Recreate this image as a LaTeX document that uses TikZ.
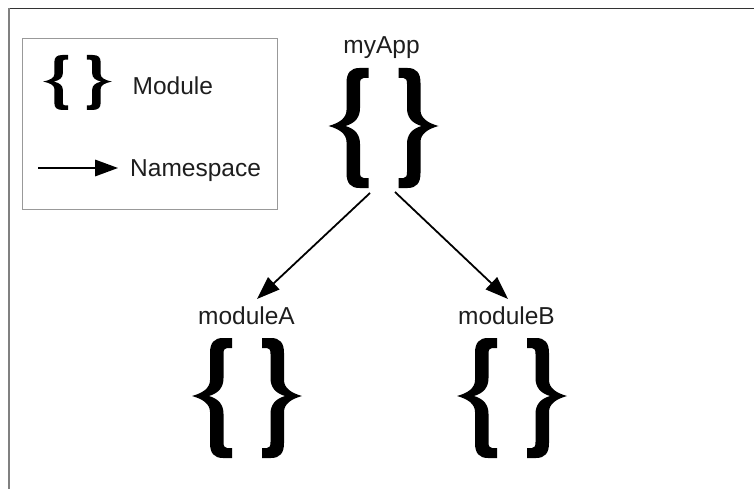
\documentclass[tikz,border=0pt]{standalone}
\usepackage{fontspec}
\setmainfont{Liberation Sans}
\usetikzlibrary{arrows.meta}
\definecolor{txt}{HTML}{1E1E1E}
\newcommand{\onebracepath}{%
  \fill (-15,0) -- (-24,0) .. controls (-33,0) and (-37,5) .. (-37,15)
    -- (-37,42) .. controls (-37,50) and (-44,55) .. (-55,58)
    .. controls (-44,61) and (-37,66) .. (-37,74)
    -- (-37,105) .. controls (-37,115) and (-33,120) .. (-24,120)
    -- (-15,120) -- (-15,110) -- (-20,110) .. controls (-22.5,110) and (-23.5,108) .. (-23.5,104)
    -- (-23.5,76) .. controls (-23.5,67) and (-28,61) .. (-38,58)
    .. controls (-28,55) and (-23.5,49) .. (-23.5,40)
    -- (-23.5,16) .. controls (-23.5,12) and (-22.5,10) .. (-20,10)
    -- (-15,10) -- cycle;}
\newcommand{\modbraces}[2]{%
  \begin{scope}[shift={#1},#2]
    \onebracepath
    \begin{scope}[xscale=-1]\onebracepath\end{scope}
  \end{scope}}
\tikzset{
  lbl/.style={font=\fontsize{24.5}{28}\selectfont, text=txt, inner sep=0pt},
  ns/.style={line width=1.8pt, -{Triangle[length=23pt,width=16.5pt]}},
}
\begin{document}
\begin{tikzpicture}[x=1pt,y=-1pt]
\useasboundingbox (0,0) rectangle (754,489);
% outer frame (partial)
\draw[black!80, line width=1.5pt] (8,8.3) -- (754,8.3);
\draw[black!50, line width=1.5pt] (9,8) -- (9,489);
% legend
\draw[black!40, line width=1pt] (22.7,38.3) rectangle (277.7,209.3);
\modbraces{(77.5,55)}{xscale=0.625, yscale=0.458}
\node[lbl, anchor=base west] (legmod) at (132.5,94.3) {Module};
\coordinate (legA) at (38,168);
\coordinate (legB) at (118,168);
\draw[ns] (legA) -- (legB);
\node[lbl, anchor=base west] (legns) at (130,176.5) {Namespace};
% modules
\node[lbl, anchor=base] (myApp) at (381.5,54) {myApp};
\modbraces{(383.5,68)}{}
\node[lbl, anchor=base] (moduleA) at (246.5,324) {moduleA};
\modbraces{(247,338)}{}
\node[lbl, anchor=base] (moduleB) at (506.5,324) {moduleB};
\modbraces{(512,338)}{}
% namespace arrows
\coordinate (outA) at (370,193);
\coordinate (outB) at (395,192);
\coordinate (inA) at (257,299);
\coordinate (inB) at (508,299);
\draw[ns] (outA) -- (inA);
\draw[ns] (outB) -- (inB);
\end{tikzpicture}
\end{document}
